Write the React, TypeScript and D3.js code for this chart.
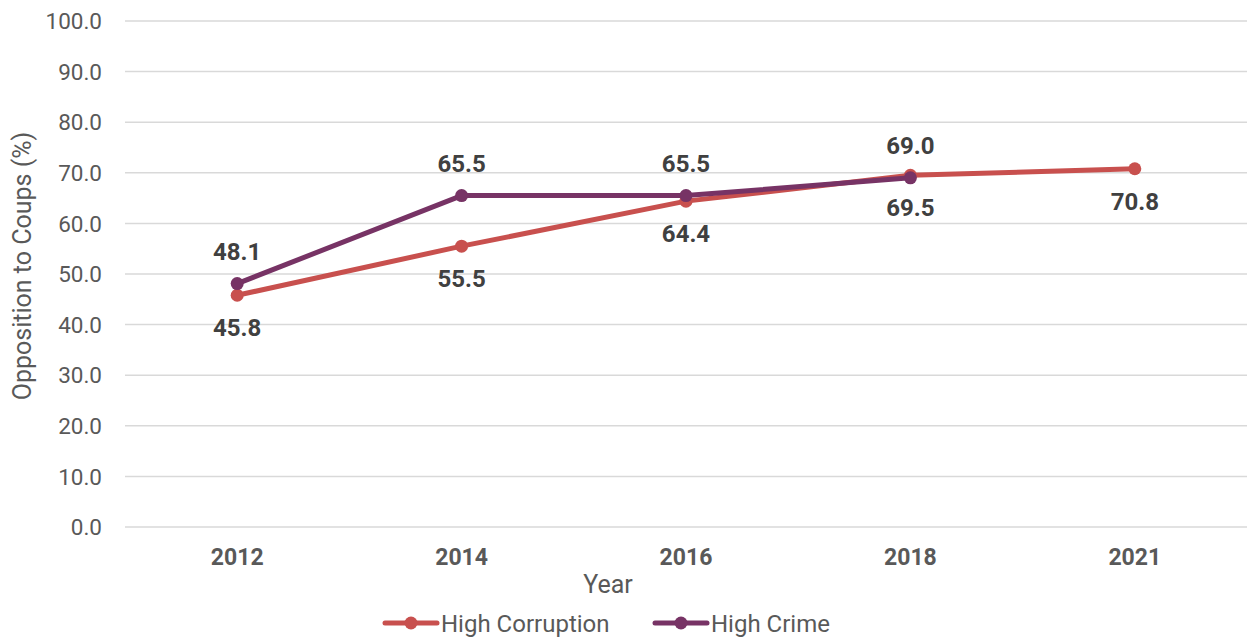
import React from "react";
import * as d3 from "d3";

const years = ["2012", "2014", "2016", "2018", "2021"];
const corruption = [45.8, 55.5, 64.4, 69.5, 70.8];
const crime: (number | null)[] = [48.1, 65.5, 65.5, 69.0, null];
const yTicks = [0, 10, 20, 30, 40, 50, 60, 70, 80, 90, 100];

const W = 1247, H = 637;
const M = { left: 125, right: 0, top: 21, bottom: 110 };
const C_CORR = "#C8504E";
const C_CRIME = "#773365";
const FONT = "Roboto, 'Noto Sans', sans-serif";

export default function App() {
  const x = d3.scaleBand().domain(years).range([M.left, W - M.right]);
  const y = d3.scaleLinear().domain([0, 100]).range([527, M.top]);
  const cx = (yr: string) => (x(yr) as number) + x.bandwidth() / 2;

  const line = d3
    .line<[string, number | null]>()
    .defined((d) => d[1] != null)
    .x((d) => cx(d[0]))
    .y((d) => y(d[1] as number));

  const corrData = years.map((yr, i) => [yr, corruption[i]] as [string, number | null]);
  const crimeData = years.map((yr, i) => [yr, crime[i]] as [string, number | null]);

  return (
    <svg width={W} height={H} style={{ position: "absolute", left: 0, top: 0, fontFamily: FONT }}>
      <rect width={W} height={H} fill="#fff" />
      {yTicks.map((t) => (
        <g key={t}>
          <line x1={M.left} x2={W - M.right} y1={y(t)} y2={y(t)} stroke="#d9d9d9" strokeWidth={1.5} />
          <text x={102} y={y(t)} dy="0.36em" textAnchor="end" fontSize={22.5} fill="#595959">
            {t.toFixed(1)}
          </text>
        </g>
      ))}
      {years.map((yr) => (
        <text key={yr} x={cx(yr)} y={565} textAnchor="middle" fontSize={23} fontWeight="bold" fill="#595959">
          {yr}
        </text>
      ))}
      <text x={608} y={593} textAnchor="middle" fontSize={25} fill="#595959">
        Year
      </text>
      <text
        transform={`translate(31, 266) rotate(-90)`}
        textAnchor="middle"
        fontSize={25}
        fill="#595959"
      >
        Opposition to Coups (%)
      </text>

      <path d={line(corrData) || ""} fill="none" stroke={C_CORR} strokeWidth={5} strokeLinejoin="round" strokeLinecap="round" />
      {corrData.map(([yr, v]) => (
        <circle key={yr} cx={cx(yr)} cy={y(v as number)} r={6.5} fill={C_CORR} />
      ))}
      <path d={line(crimeData) || ""} fill="none" stroke={C_CRIME} strokeWidth={5} strokeLinejoin="round" strokeLinecap="round" />
      {crimeData.filter((d) => d[1] != null).map(([yr, v]) => (
        <circle key={yr} cx={cx(yr)} cy={y(v as number)} r={6.5} fill={C_CRIME} />
      ))}

      {corrData.map(([yr, v]) => (
        <text key={yr} x={cx(yr)} y={y(v as number) + 41} textAnchor="middle" fontSize={24} fontWeight="bold" fill="#404040">
          {(v as number).toFixed(1)}
        </text>
      ))}
      {crimeData.filter((d) => d[1] != null).map(([yr, v]) => (
        <text key={yr} x={cx(yr)} y={y(v as number) - 24} textAnchor="middle" fontSize={24} fontWeight="bold" fill="#404040">
          {(v as number).toFixed(1)}
        </text>
      ))}

      <g transform="translate(383, 623)">
        <line x1={2} x2={54} y1={0} y2={0} stroke={C_CORR} strokeWidth={5} strokeLinecap="round" />
        <circle cx={28} cy={0} r={6.5} fill={C_CORR} />
        <text x={58} y={0} dy="0.36em" fontSize={24} fill="#595959">High Corruption</text>
      </g>
      <g transform="translate(653, 623)">
        <line x1={2} x2={54} y1={0} y2={0} stroke={C_CRIME} strokeWidth={5} strokeLinecap="round" />
        <circle cx={28} cy={0} r={6.5} fill={C_CRIME} />
        <text x={58} y={0} dy="0.36em" fontSize={24} fill="#595959">High Crime</text>
      </g>
    </svg>
  );
}
